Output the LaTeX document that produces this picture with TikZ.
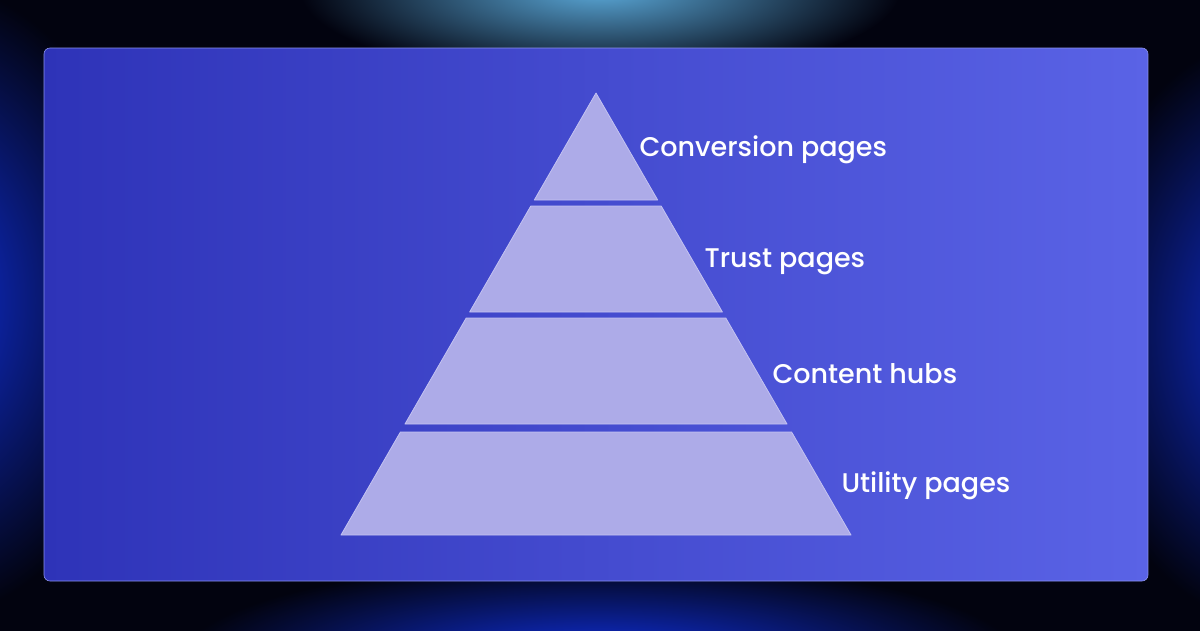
\documentclass[tikz,border=0pt]{standalone}
\usepackage{fontspec}
\setmainfont{Poppins}[UprightFont=* Medium]
\definecolor{bgk}{HTML}{02030F}
\definecolor{glowB}{HTML}{1030E0}
\definecolor{glowC}{HTML}{5AA8D8}
\definecolor{panL}{HTML}{2E33B8}
\definecolor{panR}{HTML}{5A63E6}
\definecolor{tier}{HTML}{ADABE8}
\definecolor{tierE}{HTML}{C4C3F2}
\tikzset{
  tierband/.style={fill=tier,draw=tierE,line width=0.8pt,line join=round},
  lbl/.style={anchor=west,text=white,font=\fontsize{27}{30}\selectfont}
}
\begin{document}
\begin{tikzpicture}[x=1pt,y=-1pt]
\useasboundingbox (0,0) rectangle (1200,630);
\begin{scope}
\clip (-6,-6) rectangle (1206,636);
\fill[bgk] (-6,-6) rectangle (1206,636);
\shade[inner color=glowB,outer color=bgk] (-80,300) ellipse (230 and 320);
\shade[inner color=glowB,outer color=bgk] (1290,330) ellipse (220 and 300);
\shade[inner color=glowB,outer color=bgk] (600,660) ellipse (420 and 100);
\shade[inner color=glowC,outer color=bgk] (600,-10) ellipse (300 and 90);
\end{scope}
\shade[left color=panL,right color=panR,draw=panR!70!white,line width=0.6pt,rounded corners=6pt] (44,48) rectangle (1148,581);
\path[tierband] (596,93) -- (657.7,200) -- (534.3,200) -- cycle;
\path[tierband] (530.8,206) -- (661.2,206) -- (722.4,312) -- (469.6,312) -- cycle;
\path[tierband] (466.2,318) -- (725.8,318) -- (787,424) -- (405,424) -- cycle;
\path[tierband] (400.4,432) -- (791.6,432) -- (851,535) -- (341,535) -- cycle;
\node[lbl] (l1) at (636,150) {Conversion pages};
\node[lbl] (l2) at (701,262) {Trust pages};
\node[lbl] (l3) at (769,374) {Content hubs};
\node[lbl] (l4) at (838,486) {Utility pages};
\end{tikzpicture}
\end{document}
